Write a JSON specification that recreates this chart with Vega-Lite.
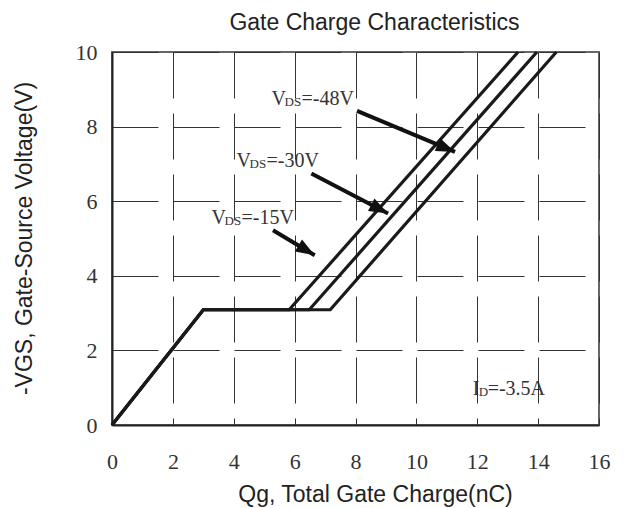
{
  "$schema": "https://vega.github.io/schema/vega-lite/v6.json",
  "width": 487,
  "height": 373,
  "autosize": {"type": "none"},
  "padding": {"left": 112, "top": 52, "right": 31, "bottom": 83},
  "background": "white",
  "title": {
    "text": "Gate Charge Characteristics",
    "font": "Liberation Sans",
    "fontSize": 23,
    "fontWeight": "normal",
    "color": "#222222",
    "anchor": "middle",
    "frame": "group",
    "dx": 19,
    "dy": 20,
    "baseline": "alphabetic",
    "offset": 8
  },
  "config": {
    "view": {"stroke": "#666666", "strokeWidth": 2}
  },
  "datasets": {
    "curves": [
      {"series": "-15V", "q": 0, "v": 0},
      {"series": "-15V", "q": 3.0, "v": 3.09},
      {"series": "-15V", "q": 5.82, "v": 3.09},
      {"series": "-15V", "q": 13.34, "v": 10},
      {"series": "-30V", "q": 0, "v": 0},
      {"series": "-30V", "q": 3.0, "v": 3.09},
      {"series": "-30V", "q": 6.48, "v": 3.09},
      {"series": "-30V", "q": 13.96, "v": 10},
      {"series": "-48V", "q": 0, "v": 0},
      {"series": "-48V", "q": 3.0, "v": 3.09},
      {"series": "-48V", "q": 7.17, "v": 3.09},
      {"series": "-48V", "q": 14.6, "v": 10}
    ],
    "arrows": [
      {"label": "-48V", "x1": 8.05, "y1": 8.42, "tx": 11.27, "ty": 7.32, "angle": 22.8},
      {"label": "-30V", "x1": 6.55, "y1": 6.74, "tx": 9.07, "ty": 5.67, "angle": 27.6},
      {"label": "-15V", "x1": 5.29, "y1": 5.22, "tx": 6.66, "ty": 4.55, "angle": 31}
    ],
    "vlabels": [
      {"x": 5.24, "y": 8.57, "main": "V", "sub": "DS", "rest": "=-48V"},
      {"x": 4.09, "y": 6.93, "main": "V", "sub": "DS", "rest": "=-30V"},
      {"x": 3.27, "y": 5.38, "main": "V", "sub": "DS", "rest": "=-15V"}
    ],
    "ilabels": [
      {"x": 11.85, "y": 0.81, "main": "I", "sub": "D", "rest": "=-3.5A"}
    ]
  },
  "layer": [
    {
      "data": {"name": "curves"},
      "mark": {"type": "line", "color": "#1a1a1a", "strokeWidth": 3.2, "strokeJoin": "miter"},
      "encoding": {
        "x": {
          "field": "q",
          "type": "quantitative",
          "scale": {"domain": [0, 16], "nice": false, "zero": false},
          "axis": {
            "values": [0, 2, 4, 6, 8, 10, 12, 14, 16],
            "title": "Qg, Total Gate Charge(nC)",
            "grid": true,
            "gridDash": [46, 15],
            "gridColor": "#333333",
            "gridWidth": 1,
            "ticks": false,
            "domainColor": "#222222",
            "domainWidth": 2,
            "labelFont": "Liberation Serif",
            "labelFontSize": 22,
            "labelColor": "#333333",
            "labelPadding": 26,
            "labelFlush": false,
            "labelOverlap": false,
            "titleFont": "Liberation Sans",
            "titleFontSize": 23,
            "titleFontWeight": "normal",
            "titleColor": "#222222",
            "titleX": 263,
            "titleY": 76,
            "titleBaseline": "alphabetic",
            "titleAlign": "center"
          }
        },
        "y": {
          "field": "v",
          "type": "quantitative",
          "scale": {"domain": [0, 10], "nice": false},
          "axis": {
            "values": [0, 2, 4, 6, 8, 10],
            "title": "-VGS, Gate-Source Voltage(V)",
            "grid": true,
            "gridDash": [46, 15],
            "gridColor": "#333333",
            "gridWidth": 1,
            "ticks": false,
            "domainColor": "#222222",
            "domainWidth": 2,
            "labelFont": "Liberation Serif",
            "labelFontSize": 22,
            "labelColor": "#333333",
            "labelPadding": 15,
            "labelFlush": false,
            "labelOverlap": false,
            "titleFont": "Liberation Sans",
            "titleFontSize": 23,
            "titleFontWeight": "normal",
            "titleColor": "#222222",
            "titleX": -81,
            "titleY": 186,
            "titleAngle": -90,
            "titleBaseline": "alphabetic",
            "titleAlign": "center"
          }
        },
        "detail": {"field": "series"}
      }
    },
    {
      "data": {"name": "arrows"},
      "mark": {"type": "rule", "color": "#111111", "strokeWidth": 4},
      "encoding": {
        "x": {"field": "x1", "type": "quantitative"},
        "y": {"field": "y1", "type": "quantitative"},
        "x2": {"field": "tx"},
        "y2": {"field": "ty"}
      }
    },
    {
      "data": {"name": "arrows"},
      "mark": {"type": "point", "shape": "M0,0L-1.9,-0.7L-1.9,0.7Z", "filled": true, "color": "#111111", "opacity": 1, "size": 400},
      "encoding": {
        "x": {"field": "tx", "type": "quantitative"},
        "y": {"field": "ty", "type": "quantitative"},
        "angle": {"field": "angle", "type": "quantitative", "scale": null}
      }
    },
    {
      "data": {"name": "vlabels"},
      "mark": {"type": "text", "font": "Liberation Serif", "fontSize": 20, "align": "left", "baseline": "alphabetic", "color": "#333333"},
      "encoding": {
        "x": {"field": "x", "type": "quantitative"},
        "y": {"field": "y", "type": "quantitative"},
        "text": {"field": "main"}
      }
    },
    {
      "data": {"name": "vlabels"},
      "mark": {"type": "text", "font": "Liberation Serif", "fontSize": 13, "align": "left", "baseline": "alphabetic", "color": "#333333", "dx": 13, "dy": 1},
      "encoding": {
        "x": {"field": "x", "type": "quantitative"},
        "y": {"field": "y", "type": "quantitative"},
        "text": {"field": "sub"}
      }
    },
    {
      "data": {"name": "vlabels"},
      "mark": {"type": "text", "font": "Liberation Serif", "fontSize": 20, "align": "left", "baseline": "alphabetic", "color": "#333333", "dx": 30},
      "encoding": {
        "x": {"field": "x", "type": "quantitative"},
        "y": {"field": "y", "type": "quantitative"},
        "text": {"field": "rest"}
      }
    },
    {
      "data": {"name": "ilabels"},
      "mark": {"type": "text", "font": "Liberation Serif", "fontSize": 20, "align": "left", "baseline": "alphabetic", "color": "#333333"},
      "encoding": {
        "x": {"field": "x", "type": "quantitative"},
        "y": {"field": "y", "type": "quantitative"},
        "text": {"field": "main"}
      }
    },
    {
      "data": {"name": "ilabels"},
      "mark": {"type": "text", "font": "Liberation Serif", "fontSize": 13, "align": "left", "baseline": "alphabetic", "color": "#333333", "dx": 6, "dy": 1},
      "encoding": {
        "x": {"field": "x", "type": "quantitative"},
        "y": {"field": "y", "type": "quantitative"},
        "text": {"field": "sub"}
      }
    },
    {
      "data": {"name": "ilabels"},
      "mark": {"type": "text", "font": "Liberation Serif", "fontSize": 20, "align": "left", "baseline": "alphabetic", "color": "#333333", "dx": 15},
      "encoding": {
        "x": {"field": "x", "type": "quantitative"},
        "y": {"field": "y", "type": "quantitative"},
        "text": {"field": "rest"}
      }
    }
  ]
}
